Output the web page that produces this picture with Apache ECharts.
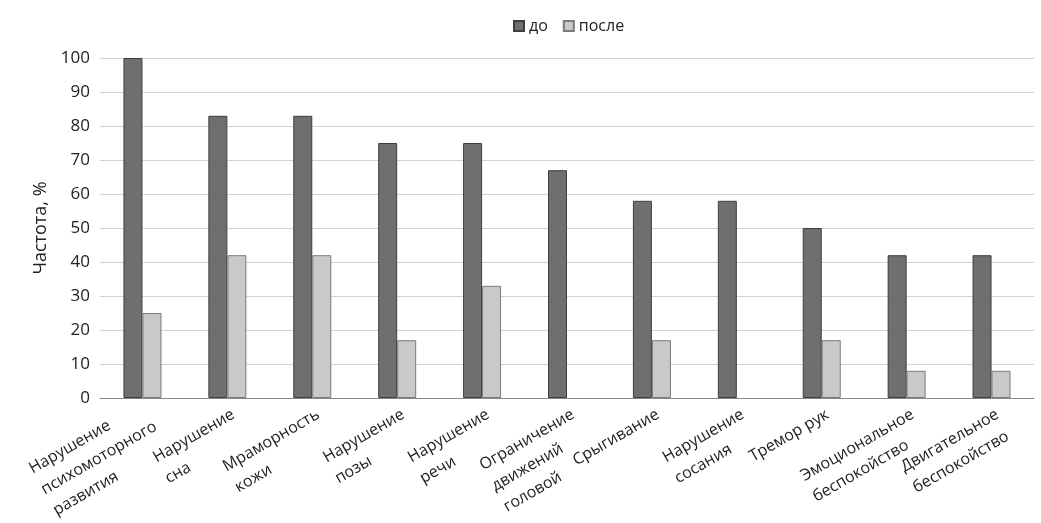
<!DOCTYPE html>
<html>
<head>
<meta charset="utf-8">
<script src="https://cdn.jsdelivr.net/npm/echarts@6/dist/echarts.min.js"></script>
<style>html,body{margin:0;padding:0;background:#fff;}#c{width:1041px;height:523px;}</style>
</head>
<body>
<div id="c"></div>
<script>
const categories = [
  "Нарушение\nпсихомоторного\nразвития",
  "Нарушение\nсна",
  "Мраморность\nкожи",
  "Нарушение\nпозы",
  "Нарушение\nречи",
  "Ограничение\nдвижений\nголовой",
  "Срыгивание",
  "Нарушение\nсосания",
  "Тремор рук",
  "Эмоциональное\nбеспокойство",
  "Двигательное\nбеспокойство"
];
const seriesNames = ["до", "после"];
const before = [100, 83, 83, 75, 75, 67, 58, 58, 50, 42, 42];
const after = [25, 42, 42, 17, 33, null, 17, null, 17, 8, 8];
const yAxisName = "Частота, %";

const font = "'Open Sans', 'Noto Sans', sans-serif";
const LH = 24;
// Excel-like anchoring: when a lower line is the longest, the block sits higher
const ctx = document.createElement('canvas').getContext('2d');
ctx.font = "16px " + font;
const longestIdx = categories.map(c => {
  let k = 0, best = -1;
  c.split('\n').forEach((s, i) => { const w = ctx.measureText(s).width; if (w > best + 2) { best = w; k = i; } });
  return k;
});
const xData = categories.map((c, i) => longestIdx[i] > 0
  ? { value: c, textStyle: { verticalAlign: 'middle' } } : c);

const chart = echarts.init(document.getElementById('c'));
chart.setOption({
  animation: false,
  backgroundColor: '#fff',
  textStyle: { fontFamily: font },
  legend: {
    top: 13, left: 508, icon: 'rect',
    itemWidth: 10, itemHeight: 10, itemGap: 15,
    textStyle: { fontSize: 16, color: '#222', fontFamily: font },
    data: seriesNames
  },
  grid: { left: 100, right: 7, top: 58, bottom: 125, containLabel: false, outerBoundsMode: 'none' },
  xAxis: {
    type: 'category',
    data: xData,
    axisLine: { lineStyle: { color: '#888', width: 1 } },
    axisTick: { show: false },
    axisLabel: {
      interval: 0, rotate: 30, margin: 5, hideOverlap: false,
      verticalAlign: 'top', align: 'right',
      fontSize: 16, color: '#222', fontFamily: font, lineHeight: LH,
      formatter: (v, idx) => {
        const body = v.split('\n').map(s => '{c|' + s + '}').join('\n');
        return longestIdx[idx] > 0 ? '{e| }\n' + body : body;
      },
      rich: {
        c: { align: 'left', fontSize: 16, lineHeight: LH, fontFamily: font, color: '#222' },
        e: { fontSize: 4, lineHeight: 52 }
      }
    }
  },
  yAxis: {
    type: 'value', min: 0, max: 100, interval: 10,
    name: yAxisName, nameLocation: 'middle', nameGap: 34,
    nameTextStyle: { fontSize: 18, color: '#222', fontFamily: font },
    axisLine: { show: false }, axisTick: { show: false },
    axisLabel: { fontSize: 17, color: '#222', margin: 10, fontFamily: font, showMinLabel: true, hideOverlap: false },
    splitLine: { lineStyle: { color: '#d2d2d2', width: 1 } }
  },
  series: [
    { name: seriesNames[0], type: 'bar', data: before, barWidth: 19, barGap: '0%',
      itemStyle: { color: '#6f6f6f', borderColor: '#3e3e3e', borderWidth: 1 } },
    { name: seriesNames[1], type: 'bar', data: after, barWidth: 19, barGap: '0%',
      itemStyle: { color: '#c9c9c9', borderColor: '#7a7a7a', borderWidth: 1 } }
  ]
});
</script>
</body>
</html>
